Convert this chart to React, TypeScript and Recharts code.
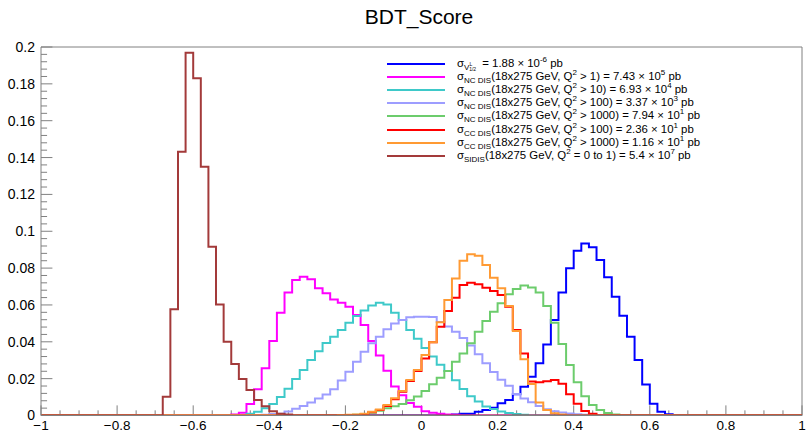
import { LineChart, Line, XAxis, YAxis, ReferenceLine } from "recharts";

// Histogram binning: 100 bins of 0.02 over [-1, 1]
const BIN_WIDTH = 0.02;
const N_BINS = 100;

// Per-sample bin contents, starting at the given lower bin edge
const vStart = 0.06;
const vValues = [
  0.0003, 0.0006, 0.001, 0.001, 0.002, 0.003, 0.0042, 0.0066, 0.0084, 0.0115,
  0.0156, 0.021, 0.0283, 0.0386, 0.0518, 0.0667, 0.0799, 0.0894, 0.0934, 0.0913,
  0.0844, 0.075, 0.0645, 0.0542, 0.0428, 0.0301, 0.0168, 0.0064, 0.0021, 0.0007,
];

const nc1Start = -0.5;
const nc1Values = [
  0.0005, 0.0015, 0.0062, 0.0142, 0.0256, 0.0404, 0.0558, 0.0668, 0.0735, 0.0753,
  0.0739, 0.069, 0.0663, 0.063, 0.0612, 0.059, 0.0545, 0.0491, 0.0404, 0.0325,
  0.0243, 0.0158, 0.011, 0.0068, 0.0048, 0.0023, 0.0015, 0.001, 0.0006, 0.0004,
];

const nc10Start = -0.46;
const nc10Values = [
  0.001, 0.0021, 0.0039, 0.0062, 0.0101, 0.0145, 0.0198, 0.0247, 0.0301, 0.0349,
  0.0393, 0.0428, 0.0464, 0.0504, 0.054, 0.057, 0.0597, 0.0612, 0.0602, 0.0558,
  0.0518, 0.0464, 0.0416, 0.0366, 0.032, 0.0275, 0.0241, 0.0191, 0.0144, 0.0104,
  0.0076, 0.0049, 0.0035, 0.0022, 0.0014, 0.0008, 0.0004,
];

const nc100Start = -0.42;
const nc100Values = [
  0.0004, 0.0008, 0.001, 0.0022, 0.0036, 0.0052, 0.007, 0.0092, 0.0114, 0.0143,
  0.019, 0.0238, 0.0292, 0.0346, 0.0392, 0.0428, 0.0468, 0.05, 0.0518, 0.0533,
  0.0536, 0.0536, 0.0535, 0.0508, 0.0483, 0.0454, 0.042, 0.038, 0.0332, 0.0284,
  0.0236, 0.0194, 0.0162, 0.0117, 0.0092, 0.0072, 0.0052, 0.0034, 0.0023, 0.0016,
  0.0011, 0.0007, 0.0004,
];

const nc1000Start = -0.18;
const nc1000Values = [
  0.0004, 0.0008, 0.0015, 0.0026, 0.0039, 0.005, 0.0062, 0.0083, 0.0103, 0.0133,
  0.0169, 0.0205, 0.0241, 0.0292, 0.0337, 0.0392, 0.0455, 0.0513, 0.0563, 0.0609,
  0.0658, 0.0686, 0.0706, 0.0695, 0.0667, 0.0594, 0.0504, 0.0388, 0.0274, 0.018,
  0.0105, 0.0057, 0.003, 0.0013, 0.0006,
];

const cc100Start = -0.18;
const cc100Values = [
  0.0003, 0.0006, 0.0018, 0.003, 0.0052, 0.0088, 0.0129, 0.0187, 0.0241, 0.031,
  0.0397, 0.0482, 0.0567, 0.0639, 0.0708, 0.0721, 0.0712, 0.0694, 0.0676, 0.0654,
  0.059, 0.0464, 0.0337, 0.0184, 0.018, 0.0186, 0.0193, 0.0173, 0.0116, 0.0064,
  0.0025, 0.0009,
];

const cc1000Start = -0.22;
const cc1000Values = [
  0.0003, 0.0004, 0.0005, 0.0009, 0.002, 0.0033, 0.0057, 0.0093, 0.0133, 0.0193,
  0.0247, 0.0328, 0.0397, 0.0506, 0.0627, 0.0744, 0.084, 0.0875, 0.0867, 0.0817,
  0.0748, 0.069, 0.0594, 0.0458, 0.0305, 0.0171, 0.007, 0.003, 0.0012, 0.0006,
];

const sidisStart = -0.68;
const sidisValues = [
  0.0102, 0.0576, 0.1431, 0.1969, 0.183, 0.135, 0.0916, 0.0603, 0.04, 0.028,
  0.0198, 0.0138, 0.0084, 0.005, 0.0023, 0.001, 0.0005,
];

const seriesKeys = ["v", "nc1", "nc10", "nc100", "nc1000", "cc100", "cc1000", "sidis"];
const seriesColors = ["#0000ff", "#ff00ff", "#3ec9c9", "#9d9dff", "#6ccc6c", "#ff0000", "#ff9a33", "#a33a3a"];

// Legend text pieces
const legendSubs = ["V", "NC DIS", "NC DIS", "NC DIS", "NC DIS", "CC DIS", "CC DIS", "SIDIS"];
const legendCuts = ["", " > 1", " > 10", " > 100", " > 1000", " > 100", " > 1000", " = 0 to 1"];
const xsecMantissa = ["1.88", "7.43", "6.93", "3.37", "7.94", "2.36", "1.16", "5.4"];
const xsecExponent = ["-6", "5", "4", "3", "1", "1", "1", "7"];

const xTicks = [-1, -0.8, -0.6, -0.4, -0.2, 0, 0.2, 0.4, 0.6, 0.8, 1];
const xTickLabels = ["\u22121", "\u22120.8", "\u22120.6", "\u22120.4", "\u22120.2", "0", "0.2", "0.4", "0.6", "0.8", "1"];
const yTicks = [0, 0.02, 0.04, 0.06, 0.08, 0.1, 0.12, 0.14, 0.16, 0.18, 0.2];
const yTickLabels = ["0", "0.02", "0.04", "0.06", "0.08", "0.1", "0.12", "0.14", "0.16", "0.18", "0.2"];

const FONT = "'Liberation Sans', Arial, Helvetica, sans-serif";
const AXIS_COLOR = "#808080";

function fillBins(start: number, values: number[]): number[] {
  const out: number[] = new Array(N_BINS).fill(0);
  const first = Math.round((start + 1) / BIN_WIDTH);
  values.forEach((v, i) => {
    out[first + i] = v;
  });
  return out;
}

const seriesBins = [
  fillBins(vStart, vValues),
  fillBins(nc1Start, nc1Values),
  fillBins(nc10Start, nc10Values),
  fillBins(nc100Start, nc100Values),
  fillBins(nc1000Start, nc1000Values),
  fillBins(cc100Start, cc100Values),
  fillBins(cc1000Start, cc1000Values),
  fillBins(sidisStart, sidisValues),
];

// one row per bin edge; the last edge repeats the last bin so the step closes at x = 1
const data = Array.from({ length: N_BINS + 1 }, (_, i) => {
  const row: Record<string, number> = { x: Math.round((-1 + i * BIN_WIDTH) * 100) / 100 };
  seriesKeys.forEach((k, s) => {
    row[k] = seriesBins[s][Math.min(i, N_BINS - 1)];
  });
  return row;
});

// ROOT-style inward ticks
const yMinorTicks = Array.from({ length: 51 }, (_, k) => ({ v: k * 0.004, major: k % 5 === 0 }));
const xMinorTicks = Array.from({ length: 41 }, (_, k) => ({ v: -1 + k * 0.05, major: k % 4 === 0 }));

function Sub({ children, size = 8, shift = 3 }: { children: any; size?: number; shift?: number }) {
  return (
    <span style={{ fontSize: size, position: "relative", top: shift, lineHeight: 0 }}>{children}</span>
  );
}

function Sup({ children, size = 8, shift = -5 }: { children: any; size?: number; shift?: number }) {
  return (
    <span style={{ fontSize: size, position: "relative", top: shift, lineHeight: 0 }}>{children}</span>
  );
}

function LegendBox() {
  return (
    <div style={{ position: "absolute", left: 0, top: 0, fontFamily: FONT, fontSize: 11.4, color: "#000" }}>
      {legendSubs.map((sub, i) => {
        const y = 63.5 + i * 13.2;
        return (
          <div key={i}>
            <div
              style={{
                position: "absolute",
                left: 387,
                top: y - 1,
                width: 58,
                height: 2,
                background: seriesColors[i],
              }}
            />
            <div
              style={{
                position: "absolute",
                left: 457,
                top: y - 8,
                whiteSpace: "nowrap",
                lineHeight: "14px",
              }}
            >
              σ
              {i === 0 ? (
                <Sub>
                  V
                  <span style={{ fontSize: 5, position: "relative", top: -4 }}>L</span>
                  <span style={{ fontSize: 5, position: "relative", top: 1, left: -3 }}>1/2</span>
                </Sub>
              ) : (
                <Sub>{sub}</Sub>
              )}
              {i === 0 ? (
                <>
                  {" "}= {xsecMantissa[i]} × 10<Sup>{xsecExponent[i]}</Sup> pb
                </>
              ) : (
                <>
                  (18x275 GeV, Q<Sup>2</Sup>
                  {legendCuts[i]}) = {xsecMantissa[i]} × 10<Sup>{xsecExponent[i]}</Sup> pb
                </>
              )}
            </div>
          </div>
        );
      })}
    </div>
  );
}

export default function App() {
  return (
    <div
      style={{
        position: "absolute",
        left: 0,
        top: 0,
        width: 808,
        height: 433,
        background: "#fff",
        fontFamily: FONT,
      }}
    >
      <div
        style={{
          position: "absolute",
          left: 0,
          width: 838,
          top: 5,
          textAlign: "center",
          fontSize: 21,
          color: "#000",
        }}
      >
        BDT_Score
      </div>

      <LineChart width={808} height={433} data={data} margin={{ top: 47, right: 6, left: 0, bottom: 0 }}>
        <XAxis
          dataKey="x"
          type="number"
          domain={[-1, 1]}
          ticks={xTicks}
          tickFormatter={(v: number) => xTickLabels[xTicks.indexOf(v)] ?? String(v)}
          tick={{ fill: "#000", fontSize: 13.5, fontFamily: FONT }}
          tickLine={false}
          tickSize={0}
          tickMargin={5}
          axisLine={{ stroke: AXIS_COLOR }}
          height={17.5}
          allowDataOverflow
        />
        <YAxis
          type="number"
          domain={[0, 0.2]}
          ticks={yTicks}
          tickFormatter={(v: number) => yTickLabels[yTicks.indexOf(v)] ?? String(v)}
          tick={{ fill: "#000", fontSize: 14, fontFamily: FONT }}
          tickLine={false}
          tickSize={0}
          tickMargin={6}
          axisLine={{ stroke: AXIS_COLOR }}
          width={41}
          allowDataOverflow
        />

        {/* frame */}
        <ReferenceLine y={0.2} stroke={AXIS_COLOR} ifOverflow="visible" />
        <ReferenceLine x={1} stroke={AXIS_COLOR} ifOverflow="visible" />

        {yMinorTicks.map((t) => (
          <ReferenceLine
            key={"yt" + t.v}
            segment={[
              { x: -1, y: t.v },
              { x: -1 + (t.major ? 0.03 : 0.016), y: t.v },
            ]}
            stroke={AXIS_COLOR}
            ifOverflow="visible"
          />
        ))}
        {xMinorTicks.map((t) => (
          <ReferenceLine
            key={"xt" + t.v}
            segment={[
              { x: t.v, y: 0 },
              { x: t.v, y: t.major ? 0.0055 : 0.0028 },
            ]}
            stroke={AXIS_COLOR}
            ifOverflow="visible"
          />
        ))}

        {seriesKeys.map((k, s) => (
          <Line
            key={k}
            dataKey={k}
            type="stepAfter"
            stroke={seriesColors[s]}
            strokeWidth={2}
            dot={false}
            activeDot={false}
            isAnimationActive={false}
          />
        ))}
      </LineChart>

      <LegendBox />
    </div>
  );
}
